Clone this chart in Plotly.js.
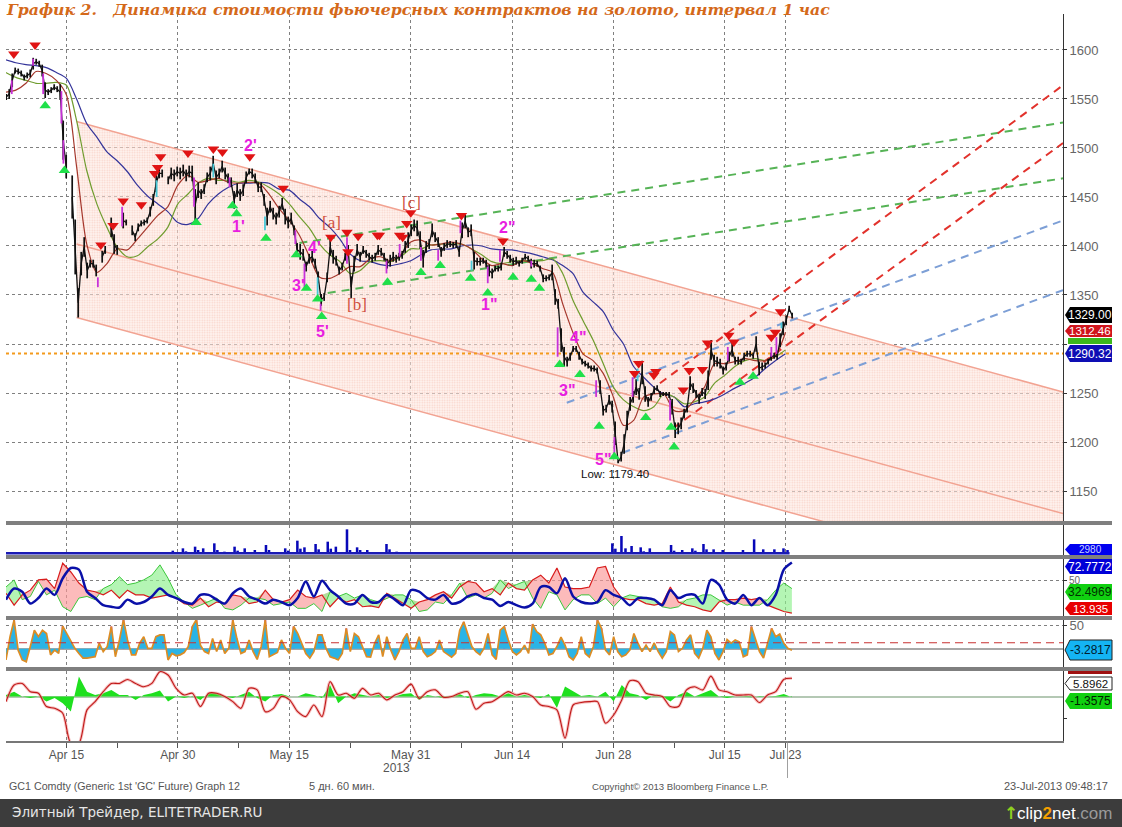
<!DOCTYPE html>
<html>
<head>
<meta charset="utf-8">
<script src="https://cdn.plot.ly/plotly-3.0.1.min.js"></script>
<style>html,body{margin:0;padding:0;background:#fff;}#chart{width:1122px;height:827px;}</style>
</head>
<body>
<div id="chart"></div>
<script>
// axis: sessions counted from Apr 15, weekends left out
var tickDays = [0, 11, 22, 34, 44, 54, 65, 71];
var tickLabels = ['Apr 15', 'Apr 30', 'May 15', 'May 31', 'Jun 14', 'Jun 28', 'Jul 15', 'Jul 23'];
var minorDays = [-6, 5, 17, 28, 39, 49, 60];
var priceTicks = [1600, 1550, 1500, 1450, 1400, 1350, 1300, 1250, 1200, 1150];
// the 1300 label sits behind the value tags
var priceTickText = ['1600', '1550', '1500', '1450', '1400', '1350', '', '1250', '1200', '1150'];

// GC1 hourly price, one reading every 0.296 session
var priceStart = -5.95, priceStep = 0.2962;
var prices = [1552,1555,1569,1579,1578,1576,1572,1574,1576,1586,1588,1586,1579,1559,1557,1559,1562,1560,1557,1508,1481,null,
1450,1399,1342,1382,1399,1375,1382,1382,1375,null,1389,1396,null,1419,1402,1396,null,1426,1424,null,1416,1409,1419,1423,1424,1426,1435,1447,1464,1474,1474,null,
1467,1474,1472,1476,1474,1477,1472,1476,1474,1442,1457,1453,1458,1470,1474,1484,1470,1474,1481,1474,1469,1465,1447,1457,1452,1457,1470,1476,1474,1469,1460,1460,1447,1430,1440,1433,1428,1435,1443,1430,1424,1428,1416,1396,1394,1391,1379,1387,1389,1382,1368,1345,1348,1368,1399,1389,1385,1375,1379,1389,1396,1358,1382,1396,1389,1396,1392,1389,1387,1389,1396,1394,1389,1382,1385,1389,1387,1389,
1391,1399,1406,1416,1421,1418,1406,1387,1399,1402,1416,1409,1404,1394,1399,1402,1402,1401,1402,1394,1416,1425,1414,1416,1385,1384,1384,1385,1382,1375,1372,1377,1377,1379,1394,1391,1387,1384,1385,1382,1385,1389,1387,1382,1382,1382,1377,1367,1367,1368,1373,1348,1341,1304,1287,1282,1287,1295,1295,1288,1282,1280,1278,1275,1275,1273,1256,1232,1234,1243,1236,1209,1179.4,1185,1198,1222,1239,1246,1256,1249,1271,1249,1241,1246,1253,1255,1249,1249,1249,1248,1236,1212,1214,1219,1229,1234,1260,1255,1249,1244,1251,1249,1263,1294,1283,1282,1280,1273,1277,1287,1294,1283,1283,1282,1287,1290,1290,1288,1300,1275,1277,1278,1282,1287,1288,1287,1304,1316,1324,1336,1329];
// half height of each hourly bar
var priceSpan = [3,5,7,3,3,3,3,3,4,6,3,3,6,8,3,3,3,3,8,20,12,0,
22,28,15,12,10,8,4,4,6,0,6,4,0,10,10,5,0,8,3,0,5,4,4,3,3,3,5,6,9,5,4,0,
4,6,6,5,6,6,6,6,8,16,8,5,5,5,7,8,7,5,6,6,5,5,9,7,6,6,6,3,5,5,5,5,6,9,6,6,6,6,6,8,6,6,5,7,8,6,5,5,6,5,6,6,4,5,9,7,5,4,4,4,5,11,8,6,5,4,4,4,4,4,5,4,4,5,6,5,4,4,
4,6,8,6,6,8,9,9,6,5,7,5,5,5,4,4,3,3,4,5,8,7,5,6,9,4,4,3,4,6,5,3,3,4,5,4,4,4,4,3,3,3,3,5,4,3,3,4,3,3,8,8,5,12,10,5,4,3,3,4,3,3,3,3,3,3,7,5,4,5,6,12,1,5,10,10,7,6,8,6,12,8,5,4,4,3,3,2,2,3,8,8,6,6,5,4,7,5,4,5,4,5,10,10,6,5,5,4,4,5,7,4,4,3,4,3,3,3,8,7,4,3,3,4,3,3,7,7,5,3,3];

// bars painted magenta / cyan on the price line: day, high, low
var magentaDays = [-5.4,-3.3,-2.3,-0.5,-0.3,3.1,5.5,12.6,16.1,22.6,23.5,25.1,27.7,31.6,32.9,35,36.7,38.9,41.6,42.8,45.9,48.5,52.3,54.1,55.9,59.6,65.3,69.6,70.1];
var magentaHigh = [1569,1591,1576,1558,1508,1368,1440,1470,1470,1416,1382,1341,1409,1385,1402,1399,1396,1426,1379,1396,1385,1317,1263,1205,1266,1243,1297,1297,1307];
var magentaLow = [1555,1584,1555,1525,1484,1358,1420,1440,1460,1402,1358,1334,1382,1372,1389,1385,1385,1413,1362,1384,1379,1287,1246,1188,1246,1222,1283,1287,1290];
var cyanDays = [8.9,14.5,19.6,24.8,40,56.4,70.6];
var cyanHigh = [1467,1484,1430,1368,1385,1275,1322];
var cyanLow = [1450,1470,1416,1350,1375,1262,1316];

// moving averages, one value per session from day -6
var maStart = -6;
var maBlue = [1590,1587,1585,1584,1582,1577,1571,1550,1525,1511,1496,1487,1476,1462,1451,1443,1435,1424,1422,1428,1443,1453,1460,1464,1464,1465,1464,1458,1457,1448,1440,1428,1419,1407,1392,1385,1384,1381,1380,1382,1385,1391,1396,1397,1397,1400,1401,1400,1397,1396,1396,1394,1392,1389,1386,1380,1372,1353,1343,1333,1314,1300,1277,1266,1256,1249,1246,1236,1239,1241,1244,1249,1255,1260,1266,1275,1283,1290];
var maRed = [1557,1559,1566,1578,1576,1569,1554,1481,1402,1373,1382,1397,1396,1407,1419,1431,1440,1462,1472,1465,1467,1469,1465,1464,1465,1464,1453,1438,1426,1411,1389,1368,1367,1372,1379,1379,1387,1389,1385,1391,1404,1406,1401,1402,1404,1402,1397,1387,1380,1382,1380,1385,1382,1377,1373,1341,1312,1290,1283,1270,1246,1217,1222,1246,1249,1249,1232,1232,1243,1256,1280,1280,1282,1285,1283,1283,1288,1312];
var maGreen = [1577,1572,1569,1566,1566,1567,1564,1528,1477,1443,1419,1399,1389,1390,1399,1407,1419,1443,1453,1464,1469,1467,1467,1465,1467,1465,1460,1453,1443,1430,1418,1402,1391,1384,1372,1375,1384,1385,1384,1389,1397,1397,1401,1402,1402,1402,1397,1391,1384,1382,1384,1385,1385,1385,1387,1372,1345,1324,1304,1280,1256,1243,1236,1232,1236,1249,1246,1239,1241,1246,1260,1268,1277,1283,1285,1283,1287,1294];

// channel and trend lines
var channelDays = [1, 98.4];
var channelUpper = [1527, 1251];
var channelMiddle = [1402, 1127];
var channelLower = [1327, 1052];
var greenUpDays = [23, 98.4], greenUp = [1403, 1526];
var greenLowDays = [25.8, 98.4], greenLow = [1352, 1469];
var redUpDays = [58.6, 98.4], redUp = [1260, 1564];
var redLowDays = [59.9, 98.4], redLow = [1214, 1505];
var blueUpDays = [49.4, 98.4], blueUp = [1240, 1426];
var blueLowDays = [54.9, 98.4], blueLow = [1189, 1355];
var supportLevel = 1290.32;

// swing markers
var swingHighDays = [-5.2,-3.1,3.4,4.6,5.6,7.4,8.7,9,9.3,12,14.5,15.4,18.1,21.4,26.1,27.7,27.8,28.8,30.7,30.9,32.9,33.2,33.6,34,39,43.1,56.5,56.1,58.2,58,61.5,62.8,60.9,63.3,65.4,65.9,69.6,70,70.5];
var swingHighs = [1596,1605,1401,1421,1446,1442,1474,1480,1491,1495,1499,1496,1491,1459,1409,1414,1394,1410,1411,1411,1411,1409,1423,1434,1431,1405,1280,1270,1272,1268,1273,1274,1253,1301,1309,1302,1307,1312,1333];
var swingLowDays = [-2.1,-0.2,12.8,16.4,16.8,19.7,22.7,23.7,24.8,25.2,31.7,35,36.9,39.9,41.6,44.1,45.9,46.7,48.7,50.7,52.6,54.1,57.2,59.7,60,66.5,67.8];
var swingLows = [1543,1477,1424,1441,1433,1408,1391,1357,1346,1328,1363,1373,1380,1367,1352,1368,1366,1357,1279,1269,1216,1185,1225,1215,1195,1261,1267];

// wave labels
var waveText = ["2'", "1'", "3'", "4'", "5'", '2"', '1"', '3"', '4"', '5"'];
var waveDays = [18.2, 17, 22.9, 24.5, 25.3, 43.5, 41.7, 49.4, 50.5, 53];
var wavePrices = [1503, 1420, 1360, 1398, 1313, 1419, 1340, 1253, 1307, 1182];
var abcText = ['[a]', '[b]', '[c]'];
var abcDays = [26.2, 28.7, 34.1];
var abcPrices = [1424, 1340, 1444];

// volume spikes
var volumeDays = [10.5,10.8,11.5,11.8,12.7,13,13.5,14.6,14.9,15.6,16.6,16.9,17.6,18.6,18.9,19.7,20,21.6,21.9,22.8,23.1,23.5,24.6,24.9,25.8,26.1,26.6,27.7,28,28.7,29,29.7,31.6,31.9,32.6,53.9,54.2,54.8,55.2,55.8,56.7,57,57.6,59.7,60,60.8,61.8,62.1,62.9,63.2,63.9,64.8,66.8,67.9,68.8,69.9,70.8,71.2];
var volumes = [2500,1500,4250,2000,5500,3000,4250,8000,3000,1750,5500,2500,4250,3000,1500,6750,3000,4250,2500,10000,4000,5000,7500,3500,9250,4000,5500,18500,3000,5000,3000,3000,7500,3500,1750,8000,4000,13500,4250,6000,5000,2000,4250,6750,2500,3000,4250,2500,7500,3500,3500,3000,3000,11000,3500,3500,4250,2980];
var volumeBase = [500, 500];
var volumeBaseDays = [-6, 71.4];

// lower panels, one reading every 0.8 session
var panelStart = -5.97, panelStep = 0.8;
var dmiRed = [34,19,32,38,51,52,40,72,61,47,38,36,32,38,28,38,32,32,28,30,32,28,21,19,28,17,23,21,32,30,21,23,38,26,23,26,38,30,28,32,17,28,23,26,17,18,16,34,28,21,15,23,26,32,36,28,42,49,47,36,40,32,47,40,38,51,57,47,66,42,40,40,42,66,68,42,28,26,26,21,19,21,42,23,19,17,13,11,23,26,26,28,26,28,19,15,11,9];
var dmiGreen = [42,51,26,30,49,32,38,17,11,28,30,26,40,45,55,45,47,51,57,70,53,32,23,15,19,23,28,15,13,19,28,28,26,19,21,23,15,15,21,11,36,30,34,28,32,26,23,28,32,32,26,11,13,23,21,32,47,28,32,28,34,51,40,45,49,28,15,36,32,13,26,32,32,21,28,17,28,32,30,28,26,17,15,17,26,28,32,32,26,19,23,19,19,19,26,38,47,40];
var dmiBlue = [26,40,36,21,28,40,32,53,66,64,36,28,19,17,16,26,21,23,30,40,32,28,23,21,32,32,26,21,34,40,30,26,21,26,23,19,28,49,30,50,38,30,21,21,32,23,23,32,26,19,38,36,28,26,32,21,23,30,33,28,26,18,23,19,16,21,42,42,34,53,30,23,21,23,38,32,28,19,28,28,26,19,38,28,32,32,21,51,45,26,21,32,19,28,19,32,64,73];
var momentum = [-2.3,5.2,5.9,2.2,1.5,-4.5,-5.3,-7.5,-21,-21,-6,-2.3,2.2,5.9,5.9,7.7,5.9,4.4,5.9,11.2,9.7,3.7,0.7,1.5,-4.5,1.5,1.5,0,-2.3,-5.3,3.7,3,-6.8,-5.3,0,-1.5,-6.8,-9,-3.8,-9,6.7,0.7,1.5,-0.8,3.7,0.7,1.5,-1.5,0.7,2.2,5.6,-0.8,2.2,3,-0.3,0,1.5,2.2,-5.7,-3,-2.3,0,2.2,0.7,1.5,0,-3.8,-4.5,-6,-18.7,-3.8,-2.7,-2.3,-2.3,-12,-8.3,-1.5,7.1,6.7,1.5,0.7,0,-4.5,-4.5,3,4.4,3,9.2,3,2.2,0.7,0.7,0.7,-2.7,0.7,2.2,7.7,8.2];
var histogram = [0.7,2.2,0,-0.7,0,-2.2,-0.7,-3,-6.7,9,2.2,0.7,1.5,3,0.7,0.7,-1.5,0.7,1.5,2.7,-2.2,0,-0.7,0.3,-1.5,1.5,1.5,0,-0.7,0.7,2.2,-0.7,-2.2,0.7,1.2,0,0,1.5,0.7,-0.7,5.2,-3,0,1.5,0.7,0,0.7,-0.7,0,1.2,1.5,-1.5,0.7,0,-0.7,0,1.2,-0.7,0.7,1.5,1.2,0,1.5,0,0.7,0,-0.7,1.2,-5.2,4.5,2.2,0.3,0.7,0,2.2,-2.2,5.2,1.5,0.7,-1.5,0.7,0,-2.2,0.7,2.2,0,1.5,3,0,-0.7,0,0,-0.3,0.3,0,0.3,1.2,-0.3];

// oscillator, one reading every 0.4 session
var oscStep = 0.4;
var oscValues = [-24,26,62,-3,-24,-28,5,40,26,40,33,-13,-3,-10,49,33,15,1,-10,-20,-20,-18,-17,12,-6,5,48,-17,19,63,19,-13,-13,12,26,1,1,26,30,30,-24,-10,-15,-13,-8,5,48,63,8,-6,-10,22,-6,19,-10,1,62,22,-10,-6,19,-6,-23,5,62,-17,-13,-8,19,1,-10,48,33,12,-10,-20,-6,30,30,1,-17,-20,-24,-10,44,-6,33,26,5,-17,-18,12,30,-17,26,-3,-24,
-6,19,33,1,1,26,-6,-17,-13,-6,19,-6,-13,-18,-10,40,58,30,5,-6,-13,1,33,-13,-23,40,48,19,-6,-13,-6,8,-10,53,37,30,12,-13,-10,5,25,8,-17,-24,-10,26,-10,-18,
5,62,44,-3,-13,26,-6,-17,-13,-3,33,12,-6,8,-6,13,-6,-20,-6,37,30,-6,1,19,30,-10,-20,1,40,26,-10,-24,-6,20,12,19,15,-17,-13,48,22,-6,-20,12,44,26,32,12,1,-3.3];

var xRange = [-5.97, 98.4];
var uiFont = 'Liberation Sans, sans-serif';

function series(start, step, values) {
    return values.map(function(v, i) { return start + step * i; });
}
// vertical segments from day / high / low, broken with null
function segments(days, highs, lows) {
    var x = [], y = [];
    days.forEach(function(d, i) {
        x.push(d, d, null);
        y.push(highs[i], lows[i], null);
    });
    return { x: x, y: y };
}
function line(x, y, color, width, dash, axis) {
    return { x: x, y: y, type: 'scatter', mode: 'lines', yaxis: axis || 'y', hoverinfo: 'skip',
        line: { color: color, width: width, dash: dash || 'solid' } };
}
function smooth(trace) {
    trace.line.shape = 'spline';
    trace.line.smoothing = 0.8;
    return trace;
}

var maDays = series(maStart, 1, maBlue);
var panelDays = series(panelStart, panelStep, dmiRed);
var oscDays = series(panelStart, oscStep, oscValues);
var priceDays = series(priceStart, priceStep, prices);
var magenta = segments(magentaDays, magentaHigh, magentaLow);
var cyan = segments(cyanDays, cyanHigh, cyanLow);
var dmiTop = dmiRed.map(function(v, i) { return Math.max(v, dmiGreen[i]); });
var peakIdx = oscValues.map(function(v, i) { return v >= 44 ? i : -1; }).filter(function(i) { return i >= 0; });

var pattern = { shape: '.', size: 2.5, solidity: 0.35, fgcolor: 'rgba(244,160,140,0.4)', bgcolor: 'rgba(253,234,228,0.55)' };
var lash = '8px,6px';

var priceLine = line(priceDays, prices, '#111111', 1.3);
priceLine.error_y = { type: 'data', array: priceSpan, visible: true, thickness: 1.7, width: 0, color: '#111111' };

var traces = [
    // channel
    line(channelDays, channelLower, '#f2a392', 1.5),
    { x: channelDays, y: channelUpper, type: 'scatter', mode: 'lines', fill: 'tonexty', fillpattern: pattern,
        fillcolor: 'rgba(253,234,228,0.55)', line: { color: '#f2a392', width: 1.5 }, hoverinfo: 'skip' },
    line(channelDays, channelMiddle, '#f2a392', 1.5),
    line(xRange, [supportLevel, supportLevel], '#f39a1c', 2, 'dot'),
    line(greenUpDays, greenUp, '#56b356', 2, lash),
    line(greenLowDays, greenLow, '#56b356', 2, lash),
    line(redUpDays, redUp, '#e2322c', 2, lash),
    line(redLowDays, redLow, '#e2322c', 2, lash),
    line(blueUpDays, blueUp, '#7d9fd6', 2, lash),
    line(blueLowDays, blueLow, '#7d9fd6', 2, lash),
    smooth(line(maDays, maBlue, '#34349a', 1.2)),
    smooth(line(maDays, maGreen, '#6f9c2e', 1.2)),
    smooth(line(maDays, maRed, '#a5372c', 1.2)),
    priceLine,
    line(magenta.x, magenta.y, '#c832d8', 1.8),
    line(cyan.x, cyan.y, '#48c8d8', 1.8),
    { x: swingHighDays, y: swingHighs, type: 'scatter', mode: 'markers', hoverinfo: 'skip',
        marker: { symbol: 'triangle-down', size: 10, color: '#e01414' } },
    { x: swingLowDays, y: swingLows, type: 'scatter', mode: 'markers', hoverinfo: 'skip',
        marker: { symbol: 'triangle-up', size: 10, color: '#1fe04a' } },

    // volume
    line(volumeBaseDays, volumeBase, '#1a1ab4', 2.5, 'solid', 'y2'),
    { x: volumeDays, y: volumes, type: 'bar', yaxis: 'y2', width: 0.25, marker: { color: '#0808b8', line: { width: 0 } }, hoverinfo: 'skip' },

    // DMI block
    { x: panelDays, y: dmiGreen, type: 'scatter', mode: 'lines', yaxis: 'y3', line: { width: 0 }, hoverinfo: 'skip' },
    { x: panelDays, y: dmiTop, type: 'scatter', mode: 'lines', yaxis: 'y3', fill: 'tonexty', fillcolor: 'rgba(250,150,150,0.65)', line: { width: 0 }, hoverinfo: 'skip' },
    { x: panelDays, y: dmiRed, type: 'scatter', mode: 'lines', yaxis: 'y3', line: { width: 0 }, hoverinfo: 'skip' },
    { x: panelDays, y: dmiTop, type: 'scatter', mode: 'lines', yaxis: 'y3', fill: 'tonexty', fillcolor: 'rgba(140,240,140,0.65)', line: { width: 0 }, hoverinfo: 'skip' },
    line(panelDays, dmiGreen, '#3cc83c', 1, 'solid', 'y3'),
    line(panelDays, dmiRed, '#d81c1c', 1.2, 'solid', 'y3'),
    smooth(line(panelDays, dmiBlue, '#0a10a8', 2.5, 'solid', 'y3')),

    // oscillator
    { x: oscDays, y: oscValues, type: 'scatter', mode: 'lines', yaxis: 'y4', fill: 'tozeroy', fillcolor: '#2ab4e6', line: { width: 0 }, hoverinfo: 'skip' },
    { x: peakIdx.map(function(i) { return oscDays[i]; }), y: peakIdx.map(function(i) { return oscValues[i]; }), type: 'bar', yaxis: 'y4', width: 0.2, marker: { color: '#d030d0' }, hoverinfo: 'skip' },
    line(oscDays, oscValues, '#dc8c24', 1.7, 'solid', 'y4'),

    // momentum
    { x: panelDays, y: histogram, type: 'scatter', mode: 'lines', yaxis: 'y5', fill: 'tozeroy', fillcolor: '#1fe01f', line: { width: 0 }, hoverinfo: 'skip' },
    smooth(line(panelDays, momentum, 'rgba(240,150,150,0.6)', 3, 'solid', 'y5')),
    smooth(line(panelDays, momentum, '#c01818', 1.1, 'solid', 'y5'))
];

var L = 6, R = 1063, T = 14, B = 741;
function px(x) { return (x - L) / (R - L); }
function py(y) { return 1 - (y - T) / (B - T); }

var shapes = [], annotations = [];

function rect(x0, y0, x1, y1, color) {
    shapes.push({ type: 'rect', xref: 'paper', yref: 'paper', x0: px(x0), x1: px(x1), y0: py(y0), y1: py(y1), fillcolor: color, line: { width: 0 }, layer: 'above' });
}
function label(x, y, text, color, size, anchor, family) {
    annotations.push({ xref: 'paper', yref: 'paper', x: px(x), y: py(y), text: text, showarrow: false, xanchor: anchor || 'left', yanchor: 'middle',
        font: { family: family || uiFont, size: size, color: color } });
}
// right hand value tag with a pointed left end
function tag(y0, y1, fill, text, color, edge, size) {
    var m = (y0 + y1) / 2;
    var d = ['M', px(1065), py(m), 'L', px(1070), py(y0), 'L', px(1112), py(y0), 'L', px(1112), py(y1), 'L', px(1070), py(y1), 'Z'].join(' ');
    shapes.push({ type: 'path', xref: 'paper', yref: 'paper', path: d, fillcolor: fill, line: { width: edge ? 1 : 0, color: edge || fill }, layer: 'above' });
    if (text) label(1090, m, text, color, size || 12, 'center');
}

// separators between panels
[[521, 525], [555, 559], [616, 620], [667, 671]].forEach(function(b) { rect(L, b[0], 1112, b[1], '#7f7f7f'); });

// dashed level in the oscillator
shapes.push({ type: 'line', xref: 'x', yref: 'y4', x0: xRange[0], x1: xRange[1], y0: 13, y1: 13, line: { color: '#c83232', width: 1.2, dash: '8px,5px' } });

// Jul 23 marker below the axis
rect(787, 741, 787.8, 778, '#888888');

tag(307, 323, '#000000', '1329.00', '#ffffff');
tag(325, 337, '#d0141c', '1312.46', '#ffffff', null, 11.5);
rect(1068, 338, 1112, 344, '#3cb81c');
tag(345, 362, '#0e0eb4', '1290.32', '#ffffff');
tag(544, 555, '#0000f0', '2980', '#c8d0ff', null, 10);
tag(559, 574, '#0000d8', '72.7772', '#ffffff');
tag(584, 600, '#10d010', '32.4969', '#003000');
tag(602, 615, '#e80000', '13.935', '#ffffff', null, 11.5);
tag(640, 660, '#14b4f4', '-3.2817', '#002030', '#202020');
rect(1068, 671, 1112, 674, '#a01010');
tag(677, 690, '#ffffff', '5.8962', '#111111', '#222222', 11.5);
tag(693, 709, '#10d010', '-1.3575', '#002000');

// wave and correction labels sit on the price scale
waveText.forEach(function(t, i) {
    annotations.push({ x: waveDays[i], y: wavePrices[i], xref: 'x', yref: 'y', text: '<b>' + t + '</b>', showarrow: false,
        font: { family: uiFont, size: 16, color: '#e81ee0' } });
});
abcText.forEach(function(t, i) {
    annotations.push({ x: abcDays[i], y: abcPrices[i], xref: 'x', yref: 'y', text: t, showarrow: false,
        font: { family: 'Liberation Serif, serif', size: 17, color: '#d05040' } });
});
annotations.push({ x: 54.2, y: 1167, xref: 'x', yref: 'y', text: 'Low: 1179.40', showarrow: false,
    font: { family: uiFont, size: 11.5, color: '#111111' } });

// footer
label(396, 768, '2013', '#555555', 12, 'center');
label(7, 786, "GC1 Comdty (Generic 1st 'GC' Future) Graph 12", '#555555', 10.7);
label(307, 786, '5 дн. 60 мин.', '#555555', 11);
label(590, 786, 'Copyright© 2013 Bloomberg Finance L.P.', '#555555', 9.6);
label(1110, 786, '23-Jul-2013 09:48:17', '#555555', 11, 'right');

rect(-10, 799, 1130, 830, '#3c3c3c');
label(10, 812, 'Элитный Трейдер, ELITETRADER.RU', '#e6e6e6', 13.5, 'left', 'DejaVu Sans, sans-serif');
label(1114, 813, '<span style="color:#ffffff">clip</span><b><span style="color:#f5a000">2</span></b><span style="color:#ffffff">net</span><span style="color:#9a9a9a">.com</span>', '#ffffff', 17, 'right', uiFont);
label(1002, 813, '<b>↑</b>', '#8fd020', 17, 'left', 'DejaVu Sans, sans-serif');

function subAxis(domainTop, domainBottom, range, ticks, texts) {
    return {
        domain: [py(domainBottom), py(domainTop)], range: range, anchor: 'x', side: 'right',
        tickmode: 'array', tickvals: ticks, ticktext: texts || ticks.map(String),
        tickfont: { family: uiFont, size: 13, color: '#666666' },
        ticks: 'outside', ticklen: 3, tickcolor: '#333333',
        showline: true, linecolor: '#333333', linewidth: 1,
        showgrid: true, gridcolor: '#808080', griddash: 'dot', gridwidth: 1, zeroline: false
    };
}

var yMain = subAxis(14, 521, [1119.4, 1636.7], priceTicks, priceTickText);
var yVolume = subAxis(525, 555, [-750, 21750], []);
var yDmi = subAxis(559, 616, [5.3, 77.4], [50]);
yDmi.tickfont.size = 10;
var yOsc = subAxis(620, 667, [-39.2, 62], [50]);
yOsc.zeroline = true; yOsc.zerolinecolor = '#a8a8a8'; yOsc.zerolinewidth = 1.5;
var yMom = subAxis(671, 741, [-20, 11.5], [-10]);
yMom.zeroline = true; yMom.zerolinecolor = '#b4c8b4'; yMom.zerolinewidth = 1.5;
yMom.showticklabels = false; yMom.showgrid = false;

var layout = {
    width: 1122, height: 827,
    margin: { l: L, r: 1122 - R, t: T, b: 827 - B },
    paper_bgcolor: '#ffffff', plot_bgcolor: '#ffffff',
    showlegend: false, hovermode: false, barmode: 'overlay',
    title: { text: '<b><i>График 2.   Динамика стоимости фьючерсных контрактов на золото, интервал 1 час</i></b>',
        x: 7 / 1122, xref: 'container', xanchor: 'left', y: 1 - 10 / 827, yref: 'container', yanchor: 'middle',
        font: { family: 'DejaVu Serif, serif', size: 15.7, color: '#d4691a' } },
    xaxis: {
        range: xRange, anchor: 'y5', tickmode: 'array', tickvals: tickDays, ticktext: tickLabels,
        tickfont: { family: uiFont, size: 12, color: '#555555' },
        ticks: 'outside', ticklen: 5, tickcolor: '#555555', ticklabelstandoff: -3,
        showline: true, linecolor: '#777777', linewidth: 2,
        showgrid: true, gridcolor: '#808080', griddash: 'dot', gridwidth: 1, zeroline: false,
        minor: { tickmode: 'array', tickvals: minorDays, ticks: 'outside', ticklen: 5, tickcolor: '#555555', showgrid: false }
    },
    yaxis: yMain, yaxis2: yVolume, yaxis3: yDmi, yaxis4: yOsc, yaxis5: yMom,
    shapes: shapes, annotations: annotations
};

Plotly.newPlot('chart', traces, layout, { displayModeBar: false, responsive: false });
</script>
</body>
</html>
